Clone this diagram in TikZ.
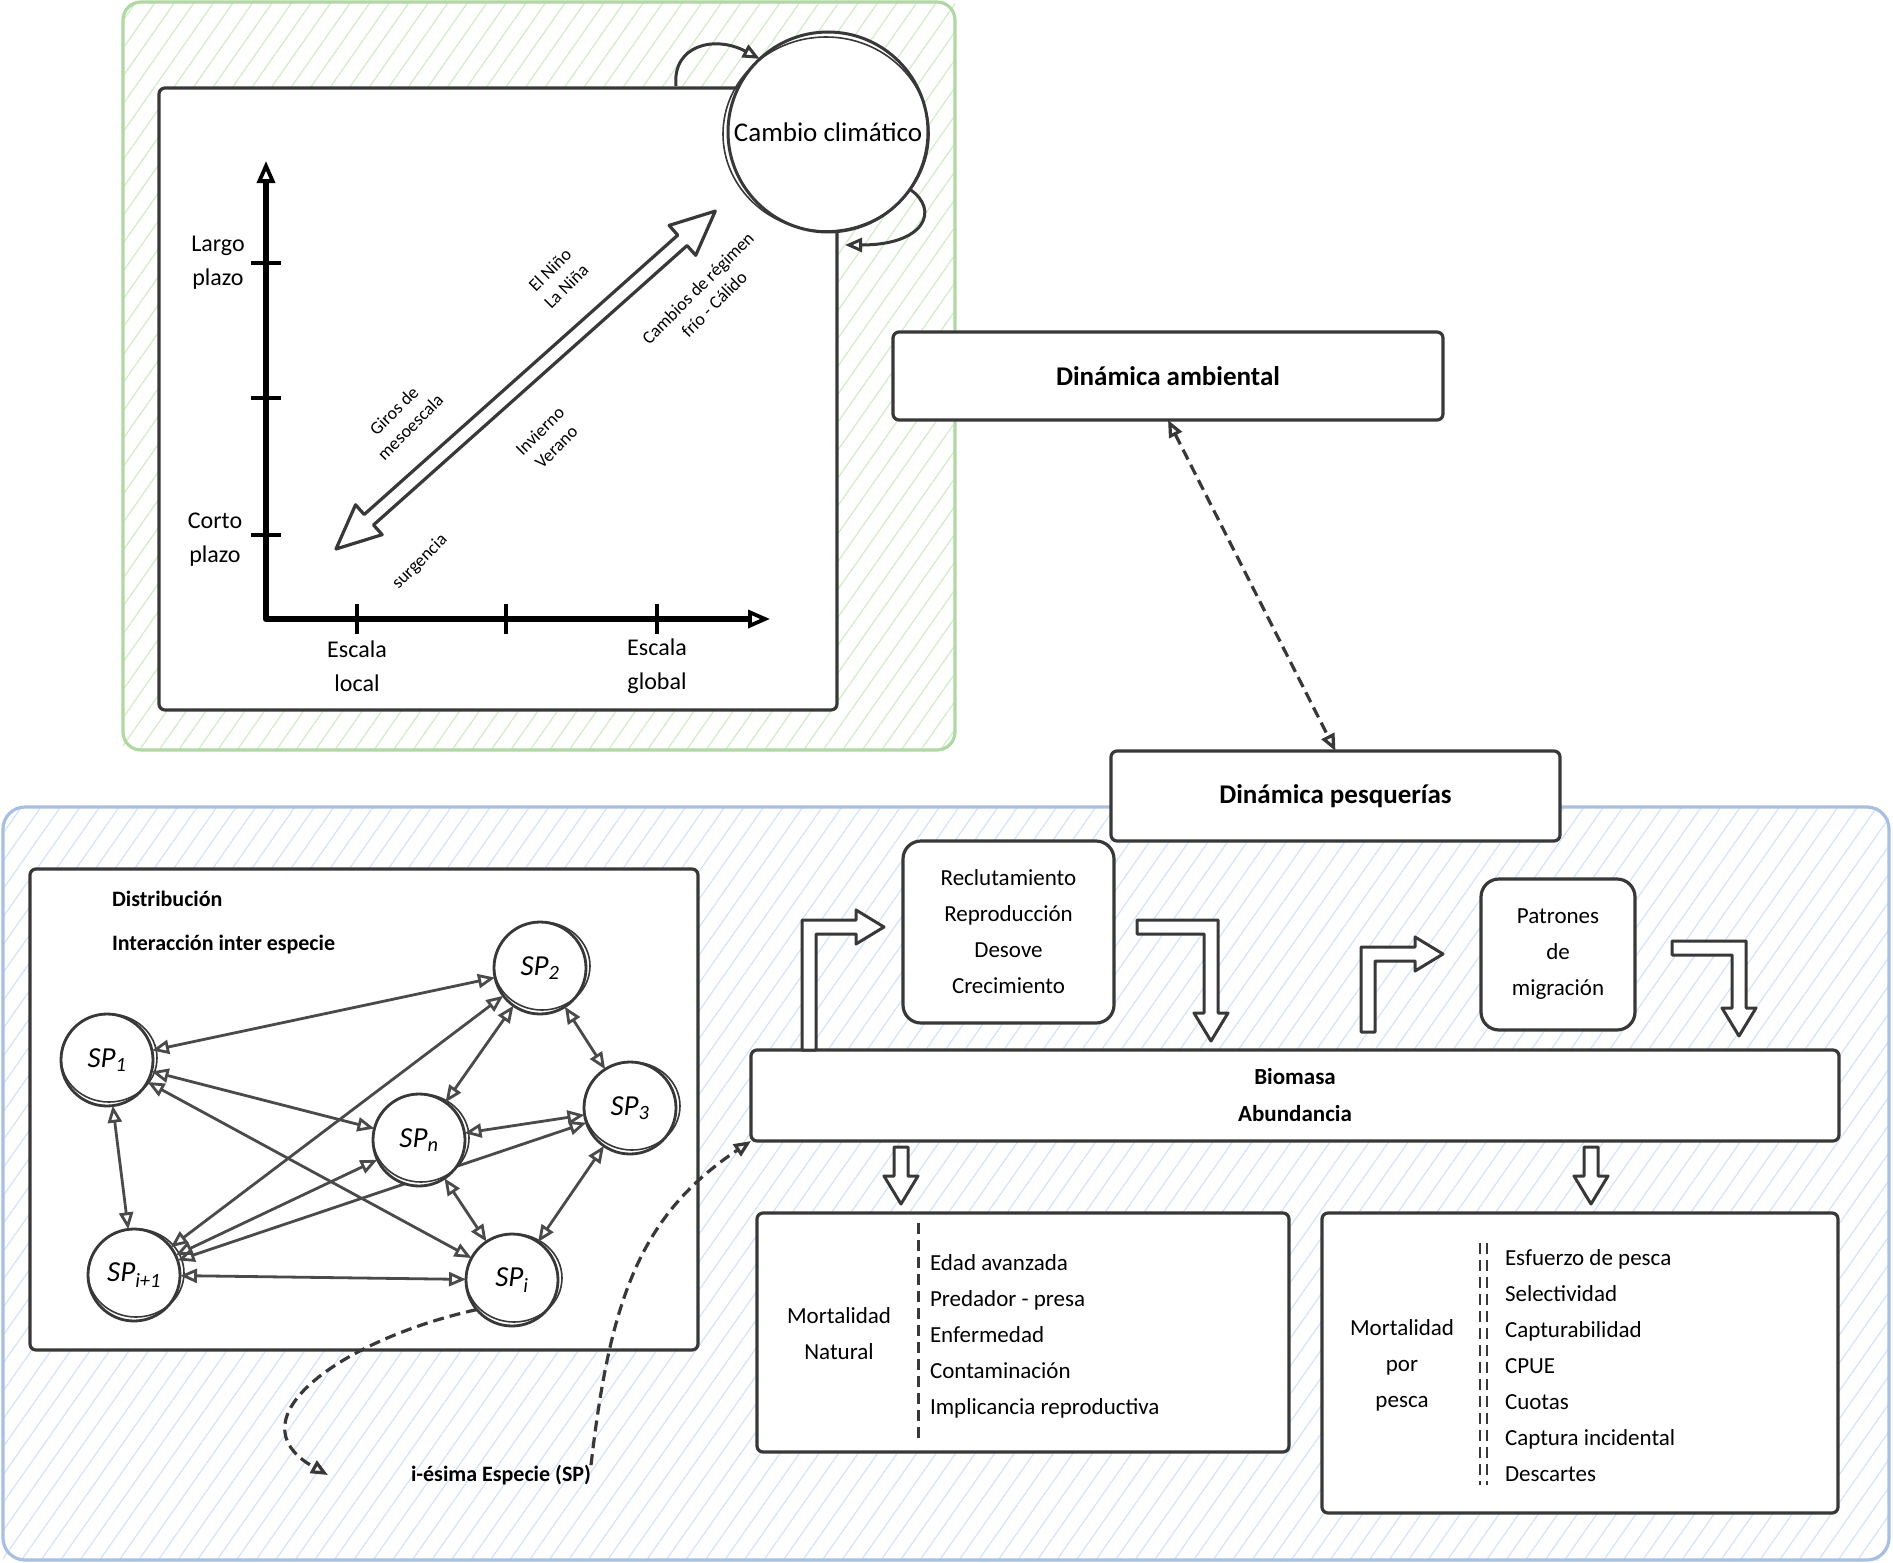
\documentclass[tikz,border=0pt]{standalone}
\usepackage{fontspec}
\setmainfont{Carlito}
\usetikzlibrary{arrows.meta,patterns.meta}
\definecolor{ink}{HTML}{383838}
\definecolor{greenb}{HTML}{B0D8A2}
\definecolor{greenh}{HTML}{CDEBC4}
\definecolor{blueb}{HTML}{A9BFE2}
\definecolor{blueh}{HTML}{D0E1F8}
\definecolor{edgec}{HTML}{4A4A4A}
\begin{document}
\begin{tikzpicture}[x=1pt,y=-1pt,
  every node/.style={inner sep=0pt,outer sep=0pt},
  boxn/.style={draw=ink,line width=3.2pt,fill=white,rounded corners=6pt},
  rbox/.style={boxn,rounded corners=18pt},
  ntxt/.style={font=\fontsize{23}{36}\selectfont,text=black},
  btxt/.style={font=\bfseries\fontsize{27}{37}\selectfont,text=black},
  rtxt/.style={font=\fontsize{18}{23}\selectfont,align=center,text=black},
  spn/.style={circle,draw=ink,line width=2.8pt,fill=white,minimum size=92pt,font=\itshape\fontsize{29}{30}\selectfont},
  sketch/.style={draw=ink,line width=1.6pt},
  rel/.style={draw=edgec,line width=2.8pt,arrows={Triangle[open,length=17pt,width=14pt]-Triangle[open,length=17pt,width=14pt]}},
  barrow/.style={draw=ink,fill=white,line width=3pt,line join=round},
  tipo/.style={arrows={-Triangle[open,length=17pt,width=14pt]}},
  dsh/.style={draw=ink,line width=3.2pt,dash pattern=on 11pt off 6pt},
]
\useasboundingbox (0,0) rectangle (1893,1563);
\fill[white] (0,0) rectangle (1893,1563);

% green frame
\path[pattern={Lines[angle=55,distance=16pt,line width=1.1pt]},pattern color=greenh] (123,2) rectangle (955,750);
\draw[greenb,line width=3.2pt,rounded corners=18pt] (123,2) rectangle (955,750);
% blue frame
\path[pattern={Lines[angle=55,distance=16pt,line width=1.1pt]},pattern color=blueh] (3,807) rectangle (1889,1560);
\draw[blueb,line width=3.2pt,rounded corners=22pt] (3,807) rectangle (1889,1560);

% chart box
\node[boxn,minimum width=678pt,minimum height=622pt] (chart) at (498,399) {};
% climate circle
\node[circle,draw=ink,line width=3pt,fill=white,minimum size=200pt,font=\fontsize{27}{30}\selectfont] (cc) at (828,132) {Cambio climático};
\draw[sketch] (826,134) ellipse[x radius=103pt,y radius=97pt];
\coordinate (loopA) at (676,86);
\coordinate (loopB) at (845,245);
\draw[ink,line width=3pt,tipo] (loopA) .. controls (672,45) and (715,35) .. (cc.133);
\draw[ink,line width=3pt,tipo] (cc.-35) .. controls (940,210) and (925,245) .. (loopB);

% axes
\draw[black,line width=6.5pt,line join=round,arrows={Triangle[open,length=22pt,width=18pt,line width=3.8pt]-Triangle[open,length=22pt,width=18pt,line width=3.8pt]}] (266,161) -- (266,619) -- (770,619);
\foreach \yy in {263,398,535} \draw[black,line width=4.5pt] (251,\yy) -- (281,\yy);
\foreach \xx in {357,506,657} \draw[black,line width=4.5pt] (\xx,604) -- (\xx,634);
\node[font=\fontsize{24}{34}\selectfont,align=center] (lp) at (218,263) {Largo\\plazo};
\node[font=\fontsize{24}{34}\selectfont,align=center] (cp) at (215,540) {Corto\\plazo};
\node[font=\fontsize{24}{34}\selectfont,align=center] (el) at (357,666) {Escala\\local};
\node[font=\fontsize{24}{34}\selectfont,align=center] (eg) at (657,666) {Escala\\global};

% diagonal double block arrow
\begin{scope}[shift={(336,549)},rotate=41.7]
\draw[barrow,line width=3.2pt] (0,0) -- (44,20) -- (44,7) -- (464,7) -- (464,20) -- (508,0) -- (464,-20) -- (464,-7) -- (44,-7) -- (44,-20) -- cycle;
\end{scope}
\node[rtxt,rotate=45] (t1) at (558,278) {El Niño\\La Niña};
\node[rtxt,rotate=45] (t2) at (706,296) {Cambios de régimen\\frío - Cálido};
\node[rtxt,rotate=45] (t3) at (402,419) {Giros de\\mesoescala};
\node[rtxt,rotate=45] (t4) at (548,439) {Invierno\\Verano};
\node[rtxt,rotate=45] (t5) at (420,562) {surgencia};

% dynamics boxes
\node[boxn,minimum width=550pt,minimum height=88pt,btxt] (amb) at (1168,376) {Dinámica ambiental};
\node[boxn,minimum width=449pt,minimum height=90pt,btxt] (pesq) at (1335.5,796) {Dinámica pesquerías};
\draw[dsh,arrows={Triangle[open,length=17pt,width=14pt]-Triangle[open,length=17pt,width=14pt]}] (amb.south) -- (pesq.north);

% distribution box
\node[boxn,minimum width=668pt,minimum height=481pt] (dist) at (364,1109.5) {};
\node[anchor=west,font=\bfseries\fontsize{22}{24}\selectfont] (dt) at (112,899) {Distribución};
\node[anchor=west,font=\bfseries\fontsize{22}{24}\selectfont] (it) at (112,945) {Interacción inter especie};

% species
\coordinate (p1) at (107,1060);
\coordinate (p2) at (540,968);
\coordinate (p3) at (630,1108);
\coordinate (pn) at (419,1140);
\coordinate (pii) at (134,1275);
\coordinate (pi) at (512,1280);
\node[spn] (sp1) at (p1) {SP\textsubscript{1}};
\node[spn] (sp2) at (p2) {SP\textsubscript{2}};
\node[spn] (sp3) at (p3) {SP\textsubscript{3}};
\node[spn] (spii) at (pii) {SP\textsubscript{i+1}};
\node[spn] (spi) at (pi) {SP\textsubscript{i}};
\foreach \c in {p1,p2,p3,pii,pi} \draw[sketch] ([xshift=2pt,yshift=2pt]\c) ellipse[x radius=48pt,y radius=44pt];
\draw[rel] (sp1) -- (sp2);
\draw[rel] (sp1) -- (spi);
\draw[rel] (sp1) -- (spii);
\draw[rel] (sp2) -- (sp3);
\draw[rel] (sp2) -- (spii);
\draw[rel] (sp3) -- (spi);
\draw[rel] (sp3) -- (spii);
\draw[rel] (spi) -- (spii);
\node[spn] (spn) at (pn) {SP\textsubscript{n}};
\draw[sketch] ([xshift=2pt,yshift=2pt]pn) ellipse[x radius=48pt,y radius=44pt];
\draw[rel] (sp1) -- (spn);
\draw[rel] (sp2) -- (spn);
\draw[rel] (sp3) -- (spn);
\draw[rel] (spn) -- (spii);
\draw[rel] (spn) -- (spi);

% i-th species label and dashed curves
\node[font=\bfseries\fontsize{22}{24}\selectfont] (lbl) at (501,1475) {i-ésima Especie (SP)};
\coordinate (tipA) at (328,1475);
\draw[dsh,tipo] (spi.220) .. controls (340,1340) and (230,1420) .. (tipA);

% biomass and process boxes
\node[boxn,minimum width=1088pt,minimum height=91pt,align=center,font=\bfseries\fontsize{23}{37}\selectfont] (bio) at (1295,1095.5) {Biomasa\\Abundancia};
\draw[dsh,tipo] (lbl.north east) .. controls (610,1300) and (640,1215) .. (bio.south west);
\node[rbox,minimum width=211pt,minimum height=182pt,ntxt,align=center] (rec) at (1008.5,932) {Reclutamiento\\Reproducción\\Desove\\Crecimiento};
\node[rbox,minimum width=154pt,minimum height=151pt,ntxt,align=center] (pat) at (1558,954.5) {Patrones\\de\\migración};

% bent block arrows
\draw[barrow] (802,1050) -- (802,920) -- (856,920) -- (856,910) -- (884,927) -- (856,944) -- (856,934) -- (816,934) -- (816,1050) -- cycle;
\draw[barrow] (1137,920) -- (1218,920) -- (1218,1013) -- (1228,1013) -- (1211,1041) -- (1194,1013) -- (1204,1013) -- (1204,934) -- (1137,934) -- cycle;
\draw[barrow] (1361,1032) -- (1361,947) -- (1415,947) -- (1415,937) -- (1443,954) -- (1415,971) -- (1415,961) -- (1375,961) -- (1375,1032) -- cycle;
\draw[barrow] (1672,941) -- (1746,941) -- (1746,1008) -- (1756,1008) -- (1739,1036) -- (1722,1008) -- (1732,1008) -- (1732,955) -- (1672,955) -- cycle;
\draw[barrow] (894,1147) -- (908,1147) -- (908,1176) -- (918,1176) -- (901,1204) -- (884,1176) -- (894,1176) -- cycle;
\draw[barrow] (1584,1147) -- (1598,1147) -- (1598,1176) -- (1608,1176) -- (1591,1204) -- (1574,1176) -- (1584,1176) -- cycle;

% mortality boxes
\node[boxn,minimum width=532pt,minimum height=239pt] (mn) at (1023,1332.5) {};
\node[boxn,minimum width=516pt,minimum height=300pt] (mp) at (1580,1363) {};
\draw[dsh,line width=3pt] (918,1223) -- (918,1443);
\draw[dsh,line width=2.4pt] (1480,1243) -- (1480,1485);
\draw[dsh,line width=2.4pt] (1487,1243) -- (1487,1485);
\node[ntxt,align=center] (mnl) at (839,1334) {Mortalidad\\Natural};
\node[ntxt,align=left,anchor=west] (mni) at (930,1336) {Edad avanzada\\Predador - presa\\Enfermedad\\Contaminación\\Implicancia reproductiva};
\node[ntxt,align=center] (mpl) at (1402,1365) {Mortalidad\\por\\pesca};
\node[ntxt,align=left,anchor=west] (mpi) at (1505,1366) {Esfuerzo de pesca\\Selectividad\\Capturabilidad\\CPUE\\Cuotas\\Captura incidental\\Descartes};
\end{tikzpicture}
\end{document}
